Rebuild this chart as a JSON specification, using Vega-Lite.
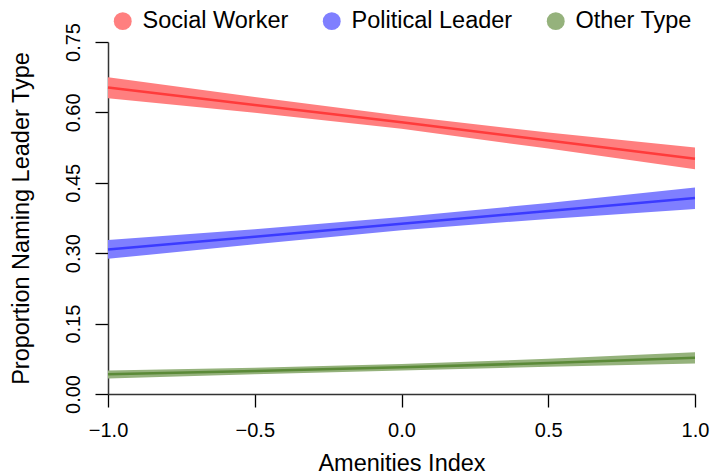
{
  "$schema": "https://vega.github.io/schema/vega-lite/v6.json",
  "width": 587,
  "height": 352,
  "autosize": {"type": "none"},
  "padding": {"left": 108, "top": 42, "right": 16, "bottom": 80},
  "background": "white",
  "config": {
    "view": {"stroke": null},
    "font": "Liberation Sans",
    "axis": {
      "grid": false,
      "domainColor": "#333333",
      "domainWidth": 1.5,
      "tickColor": "#000000",
      "tickWidth": 1.3,
      "tickSize": 13,
      "labelFont": "Liberation Sans",
      "labelFontSize": 20,
      "labelColor": "#000000",
      "titleFont": "Liberation Sans",
      "titleFontSize": 23.5,
      "titleFontWeight": "normal",
      "titleColor": "#000000"
    }
  },
  "data": {
    "values": [
      {"series": "Social Worker", "x": -1.0, "fit": 0.653, "lo": 0.630, "hi": 0.675},
      {"series": "Social Worker", "x": -0.5, "fit": 0.616, "lo": 0.599, "hi": 0.633},
      {"series": "Social Worker", "x": 0.0, "fit": 0.579, "lo": 0.565, "hi": 0.593},
      {"series": "Social Worker", "x": 0.5, "fit": 0.540, "lo": 0.523, "hi": 0.557},
      {"series": "Social Worker", "x": 1.0, "fit": 0.501, "lo": 0.479, "hi": 0.525},
      {"series": "Political Leader", "x": -1.0, "fit": 0.308, "lo": 0.288, "hi": 0.328},
      {"series": "Political Leader", "x": -0.5, "fit": 0.335, "lo": 0.319, "hi": 0.351},
      {"series": "Political Leader", "x": 0.0, "fit": 0.363, "lo": 0.349, "hi": 0.377},
      {"series": "Political Leader", "x": 0.5, "fit": 0.390, "lo": 0.373, "hi": 0.407},
      {"series": "Political Leader", "x": 1.0, "fit": 0.4175, "lo": 0.394, "hi": 0.440},
      {"series": "Other Type", "x": -1.0, "fit": 0.042, "lo": 0.033, "hi": 0.050},
      {"series": "Other Type", "x": -0.5, "fit": 0.049, "lo": 0.042, "hi": 0.056},
      {"series": "Other Type", "x": 0.0, "fit": 0.057, "lo": 0.050, "hi": 0.064},
      {"series": "Other Type", "x": 0.5, "fit": 0.066, "lo": 0.058, "hi": 0.075},
      {"series": "Other Type", "x": 1.0, "fit": 0.077, "lo": 0.065, "hi": 0.089}
    ]
  },
  "encoding": {
    "x": {
      "field": "x",
      "type": "quantitative",
      "scale": {"domain": [-1, 1], "nice": false, "zero": false},
      "axis": {
        "title": "Amenities Index",
        "values": [-1, -0.5, 0, 0.5, 1],
        "format": ".1f",
        "labelPadding": 13,
        "titlePadding": 11,
        "labelFlush": false
      }
    }
  },
  "layer": [
    {
      "mark": {"type": "area", "opacity": 1},
      "encoding": {
        "y": {
          "field": "lo",
          "type": "quantitative",
          "scale": {"domain": [0, 0.75], "nice": false, "zero": false},
          "axis": {
            "title": "Proportion Naming Leader Type",
            "values": [0, 0.15, 0.3, 0.45, 0.6, 0.75],
            "format": ".2f",
            "labelAngle": 270,
            "labelAlign": "center",
            "labelBaseline": "bottom",
            "labelPadding": 12,
            "titlePadding": 30,
            "labelFlush": false
          }
        },
        "y2": {"field": "hi"},
        "color": {
          "field": "series",
          "type": "nominal",
          "scale": {
            "domain": ["Social Worker", "Political Leader", "Other Type"],
            "range": ["#ff7f7f", "#7f7fff", "#95b27c"]
          },
          "legend": {
            "title": null,
            "orient": "none",
            "direction": "horizontal",
            "legendX": 3,
            "legendY": -33,
            "symbolType": "circle",
            "symbolSize": 320,
            "symbolStrokeWidth": 0,
            "symbolOpacity": 1,
            "labelFont": "Liberation Sans",
            "labelFontSize": 23.5,
            "labelColor": "#000000",
            "labelLimit": 400,
            "labelOffset": 8,
            "columnPadding": 31,
            "padding": 0
          }
        }
      }
    },
    {
      "mark": {"type": "line", "strokeWidth": 2.5},
      "encoding": {
        "y": {"field": "fit", "type": "quantitative"},
        "stroke": {
          "field": "series",
          "type": "nominal",
          "scale": {
            "domain": ["Social Worker", "Political Leader", "Other Type"],
            "range": ["#ff3b3b", "#3b3bff", "#5b8a38"]
          },
          "legend": null
        }
      }
    }
  ]
}
